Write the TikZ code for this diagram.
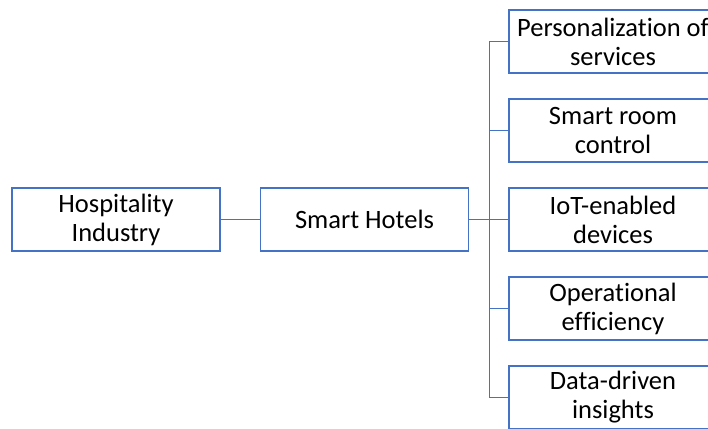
\documentclass[tikz,border=0pt]{standalone}
\usepackage{fontspec}
\setmainfont{Carlito}[Ligatures=NoCommon]
\usepackage{tikz}
\definecolor{boxblue}{HTML}{4472C4}
\tikzstyle{item}=[rectangle, draw=boxblue, line width=1.3pt, fill=white, minimum width=208pt, minimum height=63pt, inner sep=0pt, align=center, font=\fontsize{26.5}{29}\selectfont]
\tikzstyle{link}=[draw=boxblue, line width=1pt]

\begin{document}
\begin{tikzpicture}[x=1pt,y=-1pt]
  \clip (0,0) rectangle (708,428);
  \useasboundingbox (0,0) rectangle (708,428);
  \node[item] (industry) at (116,219.5) {Hospitality\\Industry};
  \node[item] (hotels) at (364.5,219.5) {Smart Hotels};
  \node[item] (personal) at (613,41.5) {Personalization of\\services};
  \node[item] (room) at (613,130.5) {Smart room\\control};
  \node[item] (iot) at (613,219.5) {IoT-enabled\\devices};
  \node[item] (ops) at (613,308.5) {Operational\\efficiency};
  \node[item] (data) at (613,397.5) {Data-driven\\insights};
  \coordinate (fork) at (489,219.5);
  \draw[link] (industry) -- (hotels);
  \foreach \leaf in {personal,room,iot,ops,data}
    \draw[link] (hotels.east) -- (fork) |- (\leaf.west);
\end{tikzpicture}
\end{document}
